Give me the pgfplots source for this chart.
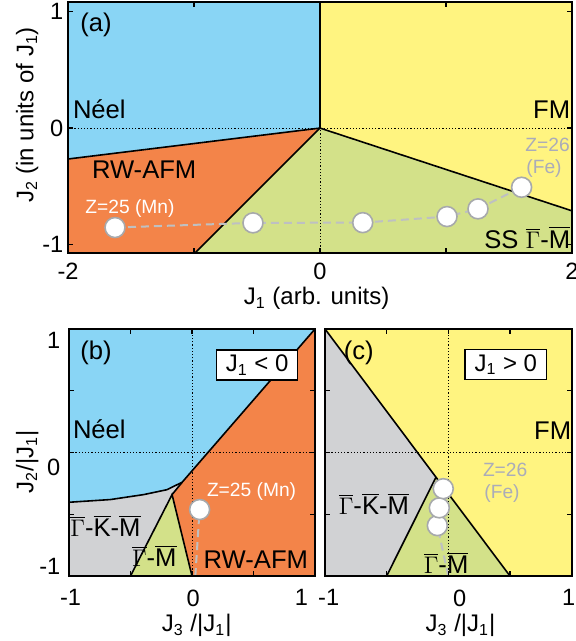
\documentclass[border=0pt]{standalone}
\usepackage{fontspec}
\setmainfont{Liberation Sans}
\usepackage{pgfplots}
\pgfplotsset{compat=1.18}
\definecolor{neel}{RGB}{137,213,245}
\definecolor{fm}{RGB}{255,244,128}
\definecolor{rw}{RGB}{243,132,73}
\definecolor{ss}{RGB}{211,225,137}
\definecolor{gkm}{RGB}{209,210,212}
\definecolor{circgray}{RGB}{167,169,172}
\definecolor{dashgray}{RGB}{190,192,194}
\definecolor{fetext}{RGB}{170,172,185}
\newcommand\fA{\fontsize{12.8}{15}\selectfont}
\newcommand\fL{\fontsize{12}{14}\selectfont}
\newcommand\fB{\fontsize{9.6}{11}\selectfont}
\newcommand\fT{\fontsize{11.8}{13}\selectfont}
\newcommand\Gb{$\overline{\Gamma}$}
\newcommand\Kb{$\overline{\mbox{K}}$}
\newcommand\Mb{$\overline{\mbox{M}}$}
\pgfplotsset{common/.style={scale only axis, axis on top, tick align=inside,
  axis line style={line width=1pt}, major tick length=2.5pt,
  tick style={black, line width=0.6pt}, tick label style={font=\fT},
  /pgf/number format/assume math mode=true},
  bnd/.style={black, line width=0.8pt},
  dot/.style={black, line width=0.4pt, dash pattern=on 0.6pt off 1pt},
  path/.style={dashgray, line width=1pt, dash pattern=on 4pt off 2.5pt, mark=*, mark size=5pt,
    mark options={solid, fill=white, draw=circgray, line width=0.8pt}}}
\begin{document}
\begin{tikzpicture}[x=1pt,y=1pt]
\path[use as bounding box] (0,0) rectangle (288,320.5);
% ---------------- (a)
\begin{axis}[common, at={(34pt,194pt)}, anchor=south west, width=252pt, height=125.5pt,
  xmin=-2, xmax=2, ymin=-1.07, ymax=1.08,
  xtick={-2,-1,0,1,2}, xticklabels={-2,,0,,2}, ytick={-1,0,1},
  xticklabel style={yshift=-1.3pt}, yticklabel style={xshift=1.2pt}]
\addplot[draw=none, fill=neel] coordinates {(-2,-0.265) (0,0) (0,1.08) (-2,1.08)} -- cycle;
\addplot[draw=none, fill=fm] coordinates {(0,0) (0,1.08) (2,1.08) (2,-0.709)} -- cycle;
\addplot[draw=none, fill=rw] coordinates {(-2,-0.265) (0,0) (-0.992,-1.07) (-2,-1.07)} -- cycle;
\addplot[draw=none, fill=ss] coordinates {(0,0) (2,-0.709) (2,-1.07) (-0.992,-1.07)} -- cycle;
\addplot[dot] coordinates {(-2,0) (2,0)};
\addplot[dot] coordinates {(0,-1.07) (0,0)};
\addplot[bnd] coordinates {(-2,-0.265) (0,0) (2,-0.709)};
\addplot[bnd] coordinates {(0,1.08) (0,0) (-0.992,-1.07)};
\addplot[path] coordinates {(-1.627,-0.852) (-0.532,-0.812) (0.339,-0.81) (1.008,-0.758) (1.254,-0.692) (1.60,-0.507)};
\end{axis}
% ---------------- (b)
\begin{axis}[common, at={(34.5pt,32.5pt)}, anchor=south west, width=123pt, height=123.5pt,
  xmin=-1, xmax=1, ymin=-1, ymax=1,
  xtick={-1,-0.5,0,0.5,1}, xticklabels={}, ytick={-1,-0.5,0,0.5,1}, yticklabels={},
  extra x ticks={-0.987,0.01,0.89}, extra x tick labels={-1,0,1},
  extra y ticks={-0.92,-0.12,0.91}, extra y tick labels={-1,0,1},
  extra tick style={major tick length=0pt},
  xticklabel style={yshift=-3.3pt}, yticklabel style={xshift=-0.8pt}]
\addplot[draw=none, fill=neel] coordinates {(-1,1) (1,1) (-0.081,-0.242) (-0.149,-0.274) (-0.203,-0.301) (-0.393,-0.341) (-0.663,-0.381) (-1,-0.403)} -- cycle;
\addplot[draw=none, fill=rw] coordinates {(1,1) (1,-1) (0,-1) (-0.162,-0.341) (-0.081,-0.242)} -- cycle;
\addplot[draw=none, fill=ss] coordinates {(-0.5,-1) (0,-1) (-0.162,-0.341)} -- cycle;
\addplot[draw=none, fill=gkm] coordinates {(-1,-0.403) (-0.663,-0.381) (-0.393,-0.341) (-0.203,-0.301) (-0.149,-0.274) (-0.081,-0.242) (-0.162,-0.341) (-0.5,-1) (-1,-1)} -- cycle;
\addplot[dot] coordinates {(-1,0) (1,0)};
\addplot[dot] coordinates {(0,-1) (0,1)};
\addplot[bnd] coordinates {(-1,-0.403) (-0.663,-0.381) (-0.393,-0.341) (-0.203,-0.301) (-0.149,-0.274) (-0.081,-0.242) (1,1)};
\addplot[bnd] coordinates {(-0.5,-1) (-0.162,-0.341) (0,-1)};
\addplot[bnd] coordinates {(-0.162,-0.341) (-0.081,-0.242)};
\addplot[dashgray, line width=1pt, dash pattern=on 4pt off 2.5pt] coordinates {(0.027,-1) (0.058,-0.52)};
\addplot[path] coordinates {(0.062,-0.462)};
\end{axis}
% ---------------- (c)
\begin{axis}[common, at={(162.5pt,32.5pt)}, anchor=south west, width=123.3pt, height=123.5pt,
  xmin=-1, xmax=1, ymin=-1, ymax=1,
  xtick={-1,-0.5,0,0.5,1}, xticklabels={}, ytick={-1,-0.5,0,0.5,1}, yticklabels={},
  extra x ticks={-0.97,0.092,0.977}, extra x tick labels={-1,0,1},
  extra tick style={major tick length=0pt},
  xticklabel style={yshift=-3.3pt}]
\addplot[draw=none, fill=fm] coordinates {(-1,-1) (1,-1) (1,1) (-1,1)} -- cycle;
\addplot[draw=none, fill=gkm] coordinates {(-1,1) (-0.1,-0.2) (-0.5,-1) (-1,-1)} -- cycle;
\addplot[draw=none, fill=ss] coordinates {(-0.5,-1) (0.5,-1) (-0.1,-0.2)} -- cycle;
\addplot[dot] coordinates {(-1,0) (1,0)};
\addplot[dot] coordinates {(0,-1) (0,1)};
\addplot[bnd] coordinates {(-1,1) (0.5,-1)};
\addplot[bnd] coordinates {(-0.5,-1) (-0.1,-0.2)};
\addplot[dashgray, line width=1pt, dash pattern=on 4pt off 2.5pt] coordinates {(0,-1) (-0.089,-0.592) (-0.073,-0.448) (-0.041,-0.293)};
\addplot[path, only marks] coordinates {(-0.089,-0.592) (-0.073,-0.448) (-0.041,-0.293)};
\end{axis}
% ---------------- text
\node[anchor=base west, font=\fA, inner sep=0] at (40,304.5) {(a)};
\node[anchor=base west, font=\fA, inner sep=0] at (36.3,261) {Néel};
\node[anchor=base west, font=\fA, inner sep=0] at (45.8,231.4) {RW-AFM};
\node[anchor=base west, font=\fB, text=white, inner sep=0] at (42.5,213.8) {Z=25 (Mn)};
\node[anchor=base east, font=\fA, inner sep=0] at (285.3,261) {FM};
\node[anchor=base west, font=\fB, text=fetext, inner sep=0] at (262.5,244.7) {Z=26};
\node[anchor=base west, font=\fB, text=fetext, inner sep=0] at (263,233.9) {(Fe)};
\node[anchor=base east, font=\fA, inner sep=0] at (285.3,196.4) {SS \Gb-\Mb};
\node[anchor=base, font=\fL, inner sep=0] at (158.3,168) {J\textsubscript{1} (arb. units)};
\node[anchor=base, rotate=90, font=\fL, inner sep=0] at (16.7,263) {J\textsubscript{2} (in units of J\textsubscript{1})};
% (b)
\node[anchor=base west, font=\fA, inner sep=0] at (40,140.5) {(b)};
\node[draw=black, line width=0.6pt, fill=white, minimum width=40.5pt, minimum height=15pt, inner sep=0, font=\fL] at (128.55,138) {J\textsubscript{1} < 0};
\node[anchor=base west, font=\fA, inner sep=0] at (36.3,101.3) {Néel};
\node[anchor=base west, font=\fB, text=white, inner sep=0] at (103.3,72.2) {Z=25 (Mn)};
\node[anchor=base west, font=\fA, inner sep=0] at (35,52.2) {\Gb-\Kb-\Mb};
\node[anchor=base west, font=\fA, inner sep=0] at (65.8,37.2) {\Gb-\Mb};
\node[anchor=base east, font=\fA, inner sep=0] at (154.2,36.4) {RW-AFM};
\node[anchor=base, rotate=90, font=\fL, inner sep=0] at (16.7,89.7) {J\textsubscript{2}/|J\textsubscript{1}|};
\node[anchor=base, font=\fL, inner sep=0] at (98.35,4.65) {J\textsubscript{3} /|J\textsubscript{1}|};
% (c)
\node[anchor=base west, font=\fA, inner sep=0] at (171.7,140.5) {(c)};
\node[draw=black, line width=0.6pt, fill=white, minimum width=40.8pt, minimum height=15pt, inner sep=0, font=\fL] at (252.9,138.15) {J\textsubscript{1} > 0};
\node[anchor=base east, font=\fA, inner sep=0] at (285.8,100.8) {FM};
\node[anchor=base west, font=\fB, text=fetext, inner sep=0] at (241.3,82.2) {Z=26};
\node[anchor=base west, font=\fB, text=fetext, inner sep=0] at (242,71.3) {(Fe)};
\node[anchor=base west, font=\fA, inner sep=0] at (169.2,63) {\Gb-\Kb-\Mb};
\node[anchor=base west, font=\fA, inner sep=0] at (211.7,33.5) {\Gb-\Mb};
\node[anchor=base, font=\fL, inner sep=0] at (230.25,4.65) {J\textsubscript{3} /|J\textsubscript{1}|};
\end{tikzpicture}
\end{document}
